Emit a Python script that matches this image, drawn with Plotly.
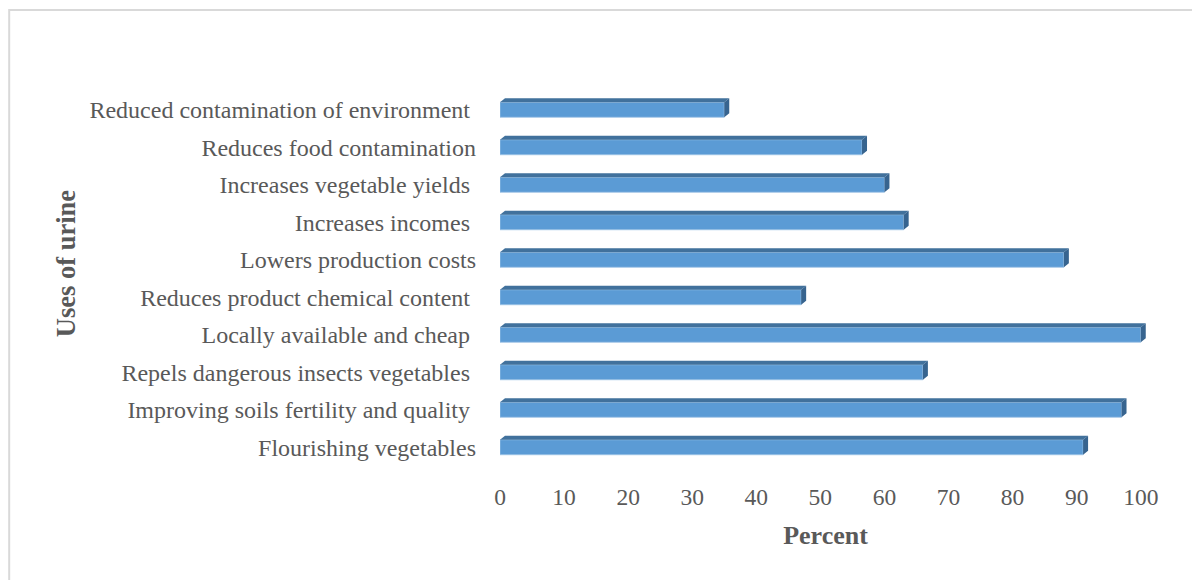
import plotly.graph_objects as go

# ---- data (bottom to top, as drawn) ----
categories = [
    "Flourishing vegetables",
    "Improving soils fertility and quality\u00a0",
    "Repels dangerous insects vegetables\u00a0",
    "Locally available and cheap\u00a0",
    "Reduces product chemical content\u00a0",
    "Lowers production costs",
    "Increases incomes\u00a0",
    "Increases vegetable yields\u00a0",
    "Reduces food contamination",
    "Reduced contamination of environment\u00a0",
]
percent = [91, 97, 66, 100, 47, 88, 63, 60, 56.5, 35]
x_ticks = [0, 10, 20, 30, 40, 50, 60, 70, 80, 90, 100]
x_title = "Percent"
y_title = "Uses of urine"

# ---- layout geometry ----
W, H = 1200, 580
PAGE = 8                      # default body margin of the html page
PX_PER_UNIT = 6.41
X_RANGE = [0, 101.6]
L = 500 - PAGE
T = 91 - PAGE
B = H - (466 - PAGE)
PW = (X_RANGE[1] - X_RANGE[0]) * PX_PER_UNIT
R = W - L - PW
PH = H - T - B
N = len(categories)
BAR_W = 0.40
DX = 5 / PX_PER_UNIT          # 3D depth, horizontal (data units)
DY = 4 / PH * N               # 3D depth, vertical (data units)

FRONT = "#5B9BD5"
TOP = "#41719C"
SIDE = "#37648F"
TXT = "#595959"
FONT = "Liberation Serif, Times New Roman, serif"

ypos = list(range(N))

fig = go.Figure()
fig.add_trace(go.Bar(
    x=percent, y=ypos, orientation="h", width=BAR_W,
    marker=dict(color=FRONT, line=dict(color="#9DC3E6", width=0.8)),
    hoverinfo="skip", showlegend=False,
))

top_x, top_y, side_x, side_y = [], [], [], []
for i, v in zip(ypos, percent):
    yt, yb = i + BAR_W / 2, i - BAR_W / 2
    top_x += [0, v, v + DX, DX, 0, None]
    top_y += [yt, yt, yt + DY, yt + DY, yt, None]
    side_x += [v, v, v + DX, v + DX, v, None]
    side_y += [yb, yt, yt + DY, yb + DY, yb, None]

fig.add_trace(go.Scatter(x=top_x, y=top_y, mode="lines", fill="toself",
                         fillcolor=TOP, line=dict(width=0, color=TOP),
                         hoverinfo="skip", showlegend=False))
fig.add_trace(go.Scatter(x=side_x, y=side_y, mode="lines", fill="toself",
                         fillcolor=SIDE, line=dict(width=0, color=SIDE),
                         hoverinfo="skip", showlegend=False))


def px_to_paper_x(px):
    return (px - PAGE - L) / PW


def px_to_paper_y(py):
    return (H - B - (py - PAGE)) / PH


fig.update_layout(
    width=W, height=H,
    margin=dict(l=L, r=R, t=T, b=B, autoexpand=False),
    paper_bgcolor="white", plot_bgcolor="white",
    font=dict(family=FONT, color=TXT),
    xaxis=dict(
        range=X_RANGE, tickvals=x_ticks, showgrid=False, zeroline=False,
        showline=False, ticks="", tickfont=dict(size=23.5, color=TXT, family=FONT),
        ticklabelstandoff=14,
        title=dict(text=f"<b>{x_title}</b>", font=dict(size=26, color=TXT, family=FONT),
                   standoff=17),
        fixedrange=True,
    ),
    yaxis=dict(
        range=[-0.5, N - 0.5], tickvals=ypos, ticktext=categories,
        showgrid=False, zeroline=False, showline=False, ticks="",
        tickfont=dict(size=24, color=TXT, family=FONT), ticklabelstandoff=23,
        fixedrange=True,
    ),
    annotations=[dict(
        text=f"<b>{y_title}</b>", textangle=-90, showarrow=False,
        xref="paper", yref="paper", x=px_to_paper_x(66), y=px_to_paper_y(264),
        xanchor="center", yanchor="middle",
        font=dict(size=26.5, color=TXT, family=FONT),
    )],
    shapes=[dict(
        type="rect", xref="paper", yref="paper",
        x0=px_to_paper_x(9), x1=px_to_paper_x(W + 20),
        y0=px_to_paper_y(H + 20), y1=px_to_paper_y(10),
        line=dict(color="#D9D9D9", width=2), fillcolor="rgba(0,0,0,0)", layer="below",
    )],
)

fig.write_html("out.html")
